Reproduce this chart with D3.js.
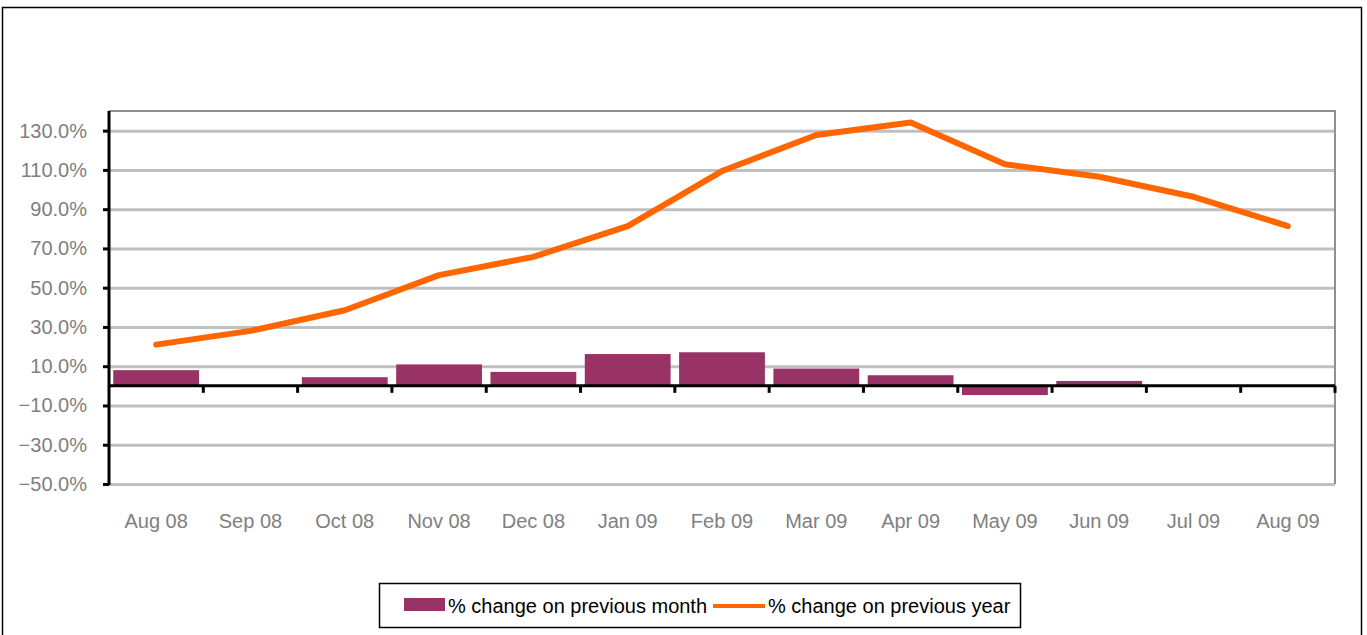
<!DOCTYPE html>
<html>
<head>
<meta charset="utf-8">
<script src="https://cdn.jsdelivr.net/npm/d3@7"></script>
<style>
  body { margin: 0; background: #fff; }
  text { font-family: "Liberation Sans", Arial, sans-serif; }
</style>
</head>
<body>
<div id="chart"></div>
<script>
// categories and series
var months = ["Aug 08", "Sep 08", "Oct 08", "Nov 08", "Dec 08", "Jan 09", "Feb 09",
              "Mar 09", "Apr 09", "May 09", "Jun 09", "Jul 09", "Aug 09"];
var monthChange = [8.0, 0, 4.4, 10.9, 7.1, 16.2, 17.1, 8.8, 5.4, -4.7, 2.5, 0, 0];
var yearChange = [21.0, 28.0, 38.5, 56.4, 65.7, 81.4, 109.4, 127.8, 134.1, 112.9, 106.5, 96.3, 81.4];
var yTicks = [-50, -30, -10, 10, 30, 50, 70, 90, 110, 130];
var legendLabels = ["% change on previous month", "% change on previous year"];

var W = 1367, H = 635;
var plot = {left: 109, right: 1335, top: 111, bottom: 484};

var svg = d3.select("#chart").append("svg")
    .attr("width", W)
    .attr("height", H);

// outer frame
svg.append("rect")
    .attr("x", 2.5).attr("y", 7.5)
    .attr("width", 1359).attr("height", 640)
    .attr("fill", "none")
    .attr("stroke", "#000")
    .attr("stroke-width", 1.5);

//scales
var yScale = d3.scaleLinear()
    .domain([-50, 140])
    .range([plot.bottom, plot.top]);

var xStep = d3.scaleBand()
    .domain(months)
    .range([plot.left, plot.right])
    .padding(0);

var xBar = d3.scaleBand()
    .domain(months)
    .range([plot.left, plot.right])
    .paddingInner(0.09)
    .paddingOuter(0.045);

// gridlines
svg.append("g")
    .attr("class", "grid")
    .attr("transform", "translate(" + plot.left + ",0)")
    .call(d3.axisLeft(yScale).tickValues(yTicks).tickSize(-(plot.right - plot.left)).tickFormat(""))
    .call(function(g){
        g.select(".domain").remove();
        g.selectAll("line").attr("stroke", "#c0c0c0").attr("stroke-width", 3);
    });

// plot border (top and right)
svg.append("path")
    .attr("d", "M" + plot.left + "," + plot.top + "H" + plot.right + "V" + plot.bottom)
    .attr("fill", "none")
    .attr("stroke", "#909090")
    .attr("stroke-width", 2);

// bars
svg.append("g").selectAll("rect")
    .data(monthChange)
    .enter()
    .append("rect")
    .attr("x", function(d, i){ return xBar(months[i]); })
    .attr("width", xBar.bandwidth())
    .attr("y", function(d){ return yScale(Math.max(d, 0)); })
    .attr("height", function(d){ return Math.abs(yScale(d) - yScale(0)); })
    .attr("fill", "#993366");

// y axis
svg.append("g")
    .attr("transform", "translate(" + plot.left + ",0)")
    .call(d3.axisLeft(yScale).tickValues(yTicks).tickSize(6).tickSizeOuter(0).tickPadding(16)
        .tickFormat(function(d){ return d3.format(".1f")(d) + "%"; }))
    .call(function(g){
        g.select(".domain").attr("stroke", "#000").attr("stroke-width", 3)
            .attr("d", "M0," + plot.top + "V" + (plot.bottom + 1));
        g.selectAll(".tick line").attr("stroke", "#000").attr("stroke-width", 3);
        g.selectAll(".tick text").attr("fill", "#808080").style("font-size", "20px")
            .style("font-family", "'Liberation Sans', Arial, sans-serif");
    });

// zero line with category ticks
var y0 = yScale(0);
svg.append("line")
    .attr("x1", plot.left).attr("x2", plot.right)
    .attr("y1", y0).attr("y2", y0)
    .attr("stroke", "#000").attr("stroke-width", 3);

svg.append("g").selectAll("line")
    .data(months)
    .enter()
    .append("line")
    .attr("x1", function(d){ return xStep(d) + xStep.bandwidth(); })
    .attr("x2", function(d){ return xStep(d) + xStep.bandwidth(); })
    .attr("y1", y0)
    .attr("y2", y0 + 7)
    .attr("stroke", "#000").attr("stroke-width", 3);

// x labels
svg.append("g").selectAll("text")
    .data(months)
    .enter()
    .append("text")
    .attr("x", function(d){ return xStep(d) + xStep.bandwidth() / 2; })
    .attr("y", 528)
    .attr("text-anchor", "middle")
    .attr("fill", "#808080")
    .style("font-size", "20px")
    .text(function(d){ return d; });

// line
var line = d3.line()
    .x(function(d, i){ return xStep(months[i]) + xStep.bandwidth() / 2; })
    .y(function(d){ return yScale(d); });

svg.append("path")
    .datum(yearChange)
    .attr("d", line)
    .attr("fill", "none")
    .attr("stroke", "#ff6600")
    .attr("stroke-width", 6)
    .attr("stroke-linejoin", "round")
    .attr("stroke-linecap", "round");

// legend
var legend = svg.append("g");
legend.append("rect")
    .attr("x", 379.5).attr("y", 583.5)
    .attr("width", 641).attr("height", 44)
    .attr("fill", "#fff")
    .attr("stroke", "#000")
    .attr("stroke-width", 1.5);

legend.append("rect")
    .attr("x", 404).attr("y", 598)
    .attr("width", 41).attr("height", 13)
    .attr("fill", "#993366");

legend.append("text")
    .attr("x", 448).attr("y", 613)
    .attr("fill", "#000")
    .style("font-size", "20px")
    .text(legendLabels[0]);

legend.append("line")
    .attr("x1", 713).attr("x2", 765)
    .attr("y1", 606).attr("y2", 606)
    .attr("stroke", "#ff6600")
    .attr("stroke-width", 4);

legend.append("text")
    .attr("x", 768).attr("y", 613)
    .attr("fill", "#000")
    .style("font-size", "20px")
    .text(legendLabels[1]);
</script>
</body>
</html>
